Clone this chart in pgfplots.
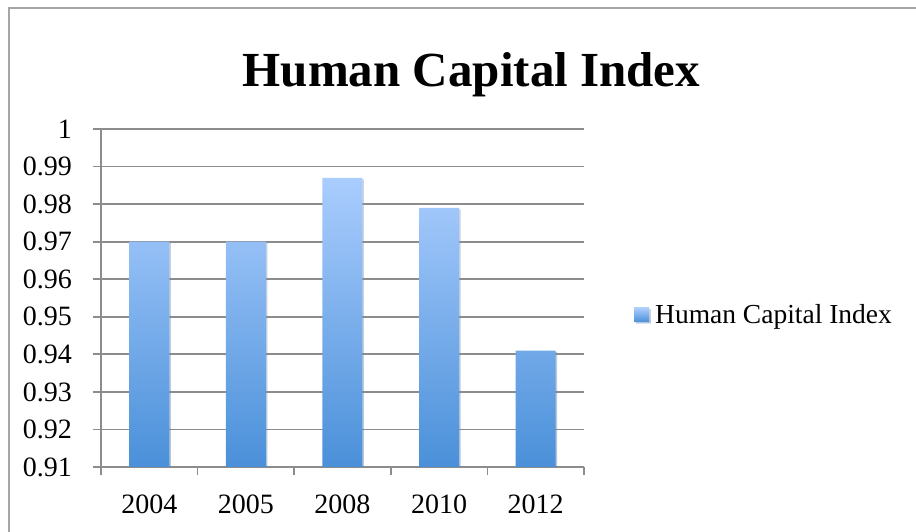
\documentclass[border=0pt]{standalone}
\usepackage{fontspec}
\setmainfont{Liberation Serif}
\usepackage{pgfplots}
\pgfplotsset{compat=1.18}
\usetikzlibrary{shadows}
\definecolor{gridgray}{RGB}{140,140,140}
\definecolor{bartop}{RGB}{170,205,254}
\definecolor{barbot}{RGB}{74,144,217}
\definecolor{framegray}{RGB}{165,165,165}
\begin{document}
\begin{tikzpicture}[x=1pt,y=1pt]
\useasboundingbox (0,0) rectangle (916,532);
\draw[framegray, line width=1.5pt] (9,-20) rectangle (940,524);
\node[anchor=base, inner sep=0pt, font=\fontsize{49}{56}\selectfont\bfseries] at (471.5,445.3) {Human Capital Index};
\begin{axis}[
  at={(101pt,65pt)}, anchor=south west, scale only axis,
  width=483pt, height=338pt,
  xmin=-0.5, xmax=4.5, ymin=0.91, ymax=1,
  y coord trafo/.code={\pgfmathparse{#1-0.91}},
  y coord inv trafo/.code={\pgfmathparse{#1+0.91}},
  scaled y ticks=false,
  axis lines=left,
  axis line style={-, draw=gridgray, line width=1.7pt},
  xtick={-0.5,0.5,1.5,2.5,3.5,4.5},
  xticklabels={},
  extra x ticks={0,1,2,3,4},
  extra x tick labels={2004,2005,2008,2010,2012},
  extra x tick style={xtick style={draw=none}, grid=none},
  xtick style={draw=gridgray, line width=1.7pt},
  ytick={0.91,0.92,0.93,0.94,0.95,0.96,0.97,0.98,0.99,1},
  yticklabels={0.91,0.92,0.93,0.94,0.95,0.96,0.97,0.98,0.99,1},
  ytick style={draw=gridgray, line width=1.7pt},
  tick align=outside,
  major tick length=8.5pt,
  ymajorgrids,
  grid style={draw=gridgray, line width=1.7pt},
  /pgf/number format/assume math mode=true,
  tick label style={font=\fontsize{28}{30}\selectfont},
  yticklabel style={xshift=-17pt},
  xticklabel style={yshift=-16pt},
  legend style={at={(1.1035,0.4497)}, anchor=west, draw=none, fill=none,
    font=\fontsize{27.5}{30}\selectfont, inner sep=0pt},
  legend cell align=left,
]
\addplot[ybar, bar width=40pt, draw=none, top color=bartop, bottom color=barbot,
  drop shadow={shadow xshift=1.5pt, shadow yshift=-1.5pt, opacity=0.25, fill=black!60},
  legend image code/.code={\fill[top color=bartop,bottom color=barbot] (0pt,-7pt) rectangle (15pt,7pt);\path (19pt,0pt);}]
  coordinates {(0,0.970) (1,0.970) (2,0.987) (3,0.979) (4,0.941)};
\addlegendentry{Human Capital Index}
\end{axis}
\end{tikzpicture}
\end{document}
